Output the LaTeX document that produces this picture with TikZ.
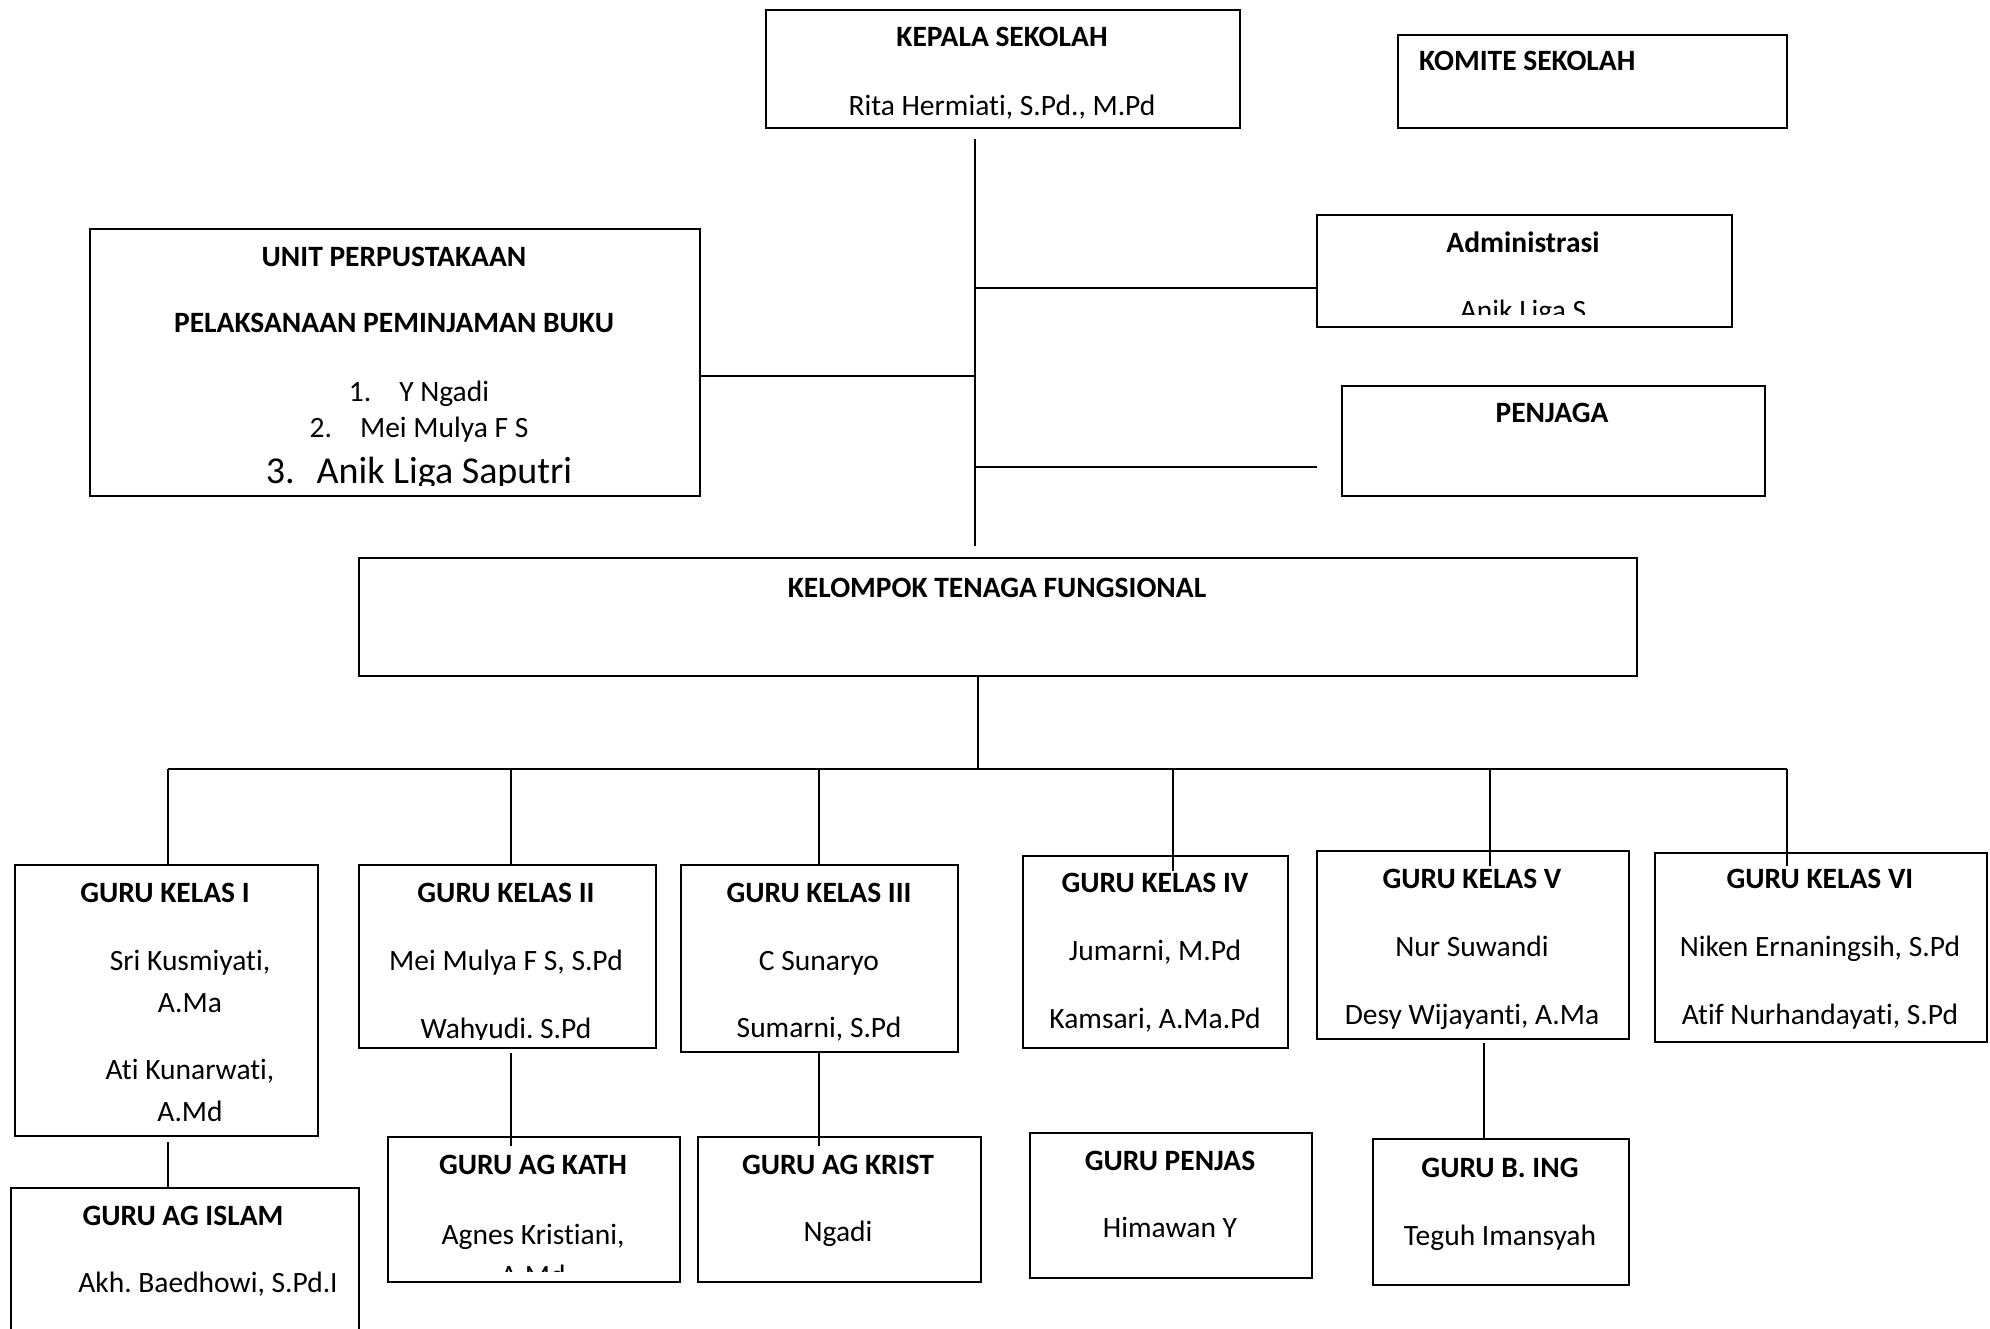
\documentclass[tikz,border=0pt]{standalone}
\usepackage{fontspec}
\setmainfont[Ligatures=NoCommon]{Carlito}
\newcommand\obox[5]{%
  \node[box, minimum width={(#4-#2)*1pt}, minimum height={(#5-#3)*1pt}] (#1) at (#2,#3) {};}
\newcommand\clipin[4]{\clip (#1+6,#2+6) rectangle (#3-6,#4-10);}
\tikzset{
  box/.style={draw, line width=2pt, inner sep=0pt, anchor=north west},
  conn/.style={line width=1.6pt},
  hd/.style={font=\bfseries\fontsize{29.5}{35}\selectfont, anchor=base, inner sep=0pt},
  tx/.style={font=\fontsize{29.5}{35}\selectfont, anchor=base, inner sep=0pt},
  big/.style={font=\fontsize{38}{44}\selectfont, anchor=base, inner sep=0pt},
}
\frenchspacing
\begin{document}
\begin{tikzpicture}[x=1pt,y=-1pt]
\useasboundingbox (0,0) rectangle (1990,1329);

% ---------- top boxes ----------
\obox{kepala}{765}{9}{1239}{127}
\node[hd] (kepalaT) at (1002,47) {KEPALA SEKOLAH};
\node[tx] (kepalaN) at (1002,116) {Rita Hermiati, S.Pd., M.Pd};

\obox{komite}{1397}{34}{1786}{127}
\node[hd, anchor=base west] (komiteT) at (1419,71) {KOMITE SEKOLAH};

\obox{unit}{89}{228}{699}{495}
\begin{scope}
\clipin{89}{228}{699}{495}
\node[hd] (unitT) at (394,267) {UNIT PERPUSTAKAAN};
\node[hd] (unitS) at (394,333) {PELAKSANAAN PEMINJAMAN BUKU};
\node[tx] (unit1) at (419,402) {1.\hspace{28pt}Y Ngadi};
\node[tx] (unit2) at (419,438) {2.\hspace{28pt}Mei Mulya F S};
\node[big] (unit3) at (419,483) {3.\hspace{22pt}Anik Liga Saputri};
\end{scope}

\obox{admin}{1316}{214}{1731}{326}
\begin{scope}
\clip (1322,220) rectangle (1725,315);
\node[hd] (adminT) at (1523,253) {Administrasi};
\node[tx] (adminN) at (1523,321) {Anik Liga S};
\end{scope}

\obox{penjaga}{1341}{385}{1764}{495}
\node[hd] (penjagaT) at (1552,423) {PENJAGA};

% ---------- trunk ----------
\coordinate (t1) at (975,139);
\coordinate (t2) at (975,546);
\coordinate (ja) at (975,288);
\coordinate (ju) at (975,376);
\coordinate (jp) at (975,467);
\coordinate (pe) at (1317,467);
\draw[conn] (t1) -- (t2);
\draw[conn] (ja) -- (ja -| admin.west);
\draw[conn] (ju) -- (ju -| unit.east);
\draw[conn] (jp) -- (pe);

% ---------- kelompok ----------
\obox{kelompok}{358}{557}{1636}{675}
\node[hd] (kelompokT) at (997,597) {KELOMPOK TENAGA FUNGSIONAL};

\coordinate (kb) at (978,769);
\draw[conn] (kelompok.south -| kb) -- (kb);
\coordinate (b1) at (168,769);
\coordinate (b2) at (511,769);
\coordinate (b3) at (819,769);
\coordinate (b4) at (1173,769);
\coordinate (b5) at (1490,769);
\coordinate (b6) at (1787,769);
\draw[conn] (b1) -- (b6);

% ---------- guru kelas ----------
\obox{gk1}{14}{864}{317}{1135}
\begin{scope}
\clipin{14}{864}{317}{1135}
\node[hd] (gk1T) at (165,902) {GURU KELAS I};
\node[tx] (gk1a) at (190,970) {Sri Kusmiyati,};
\node[tx] (gk1b) at (190,1012) {A.Ma};
\node[tx] (gk1c) at (190,1079) {Ati Kunarwati,};
\node[tx] (gk1d) at (190,1121) {A.Md};
\end{scope}

\obox{gk2}{358}{864}{655}{1047}
\begin{scope}
\clip (364,870) rectangle (649,1039);
\node[hd] (gk2T) at (506,902) {GURU KELAS II};
\node[tx] (gk2a) at (506,970) {Mei Mulya F S, S.Pd};
\node[tx] (gk2b) at (506,1038) {Wahyudi. S.Pd};
\end{scope}

\obox{gk3}{680}{864}{957}{1051}
\begin{scope}
\clipin{680}{864}{957}{1051}
\node[hd] (gk3T) at (819,902) {GURU KELAS III};
\node[tx] (gk3a) at (819,970) {C Sunaryo};
\node[tx] (gk3b) at (819,1037) {Sumarni, S.Pd};
\end{scope}

\obox{gk4}{1022}{855}{1287}{1047}
\begin{scope}
\clipin{1022}{855}{1287}{1047}
\node[hd] (gk4T) at (1155,892) {GURU KELAS IV};
\node[tx] (gk4a) at (1155,960) {Jumarni, M.Pd};
\node[tx] (gk4b) at (1155,1028) {Kamsari, A.Ma.Pd};
\end{scope}

\obox{gk5}{1316}{850}{1628}{1038}
\begin{scope}
\clipin{1316}{850}{1628}{1038}
\node[hd] (gk5T) at (1472,888) {GURU KELAS V};
\node[tx] (gk5a) at (1472,956) {Nur Suwandi};
\node[tx] (gk5b) at (1472,1024) {Desy Wijayanti, A.Ma};
\end{scope}

\obox{gk6}{1654}{852}{1986}{1041}
\begin{scope}
\clipin{1654}{852}{1986}{1041}
\node[hd] (gk6T) at (1820,888) {GURU KELAS VI};
\node[tx] (gk6a) at (1820,956) {Niken Ernaningsih, S.Pd};
\node[tx] (gk6b) at (1820,1024) {Atif Nurhandayati, S.Pd};
\end{scope}

\coordinate (d4) at (1173,871);
\coordinate (d5) at (1490,866);
\coordinate (d6) at (1787,866);
\draw[conn] (b1) -- (b1 |- gk1.north);
\draw[conn] (b2) -- (b2 |- gk2.north);
\draw[conn] (b3) -- (b3 |- gk3.north);
\draw[conn] (b4) -- (d4);
\draw[conn] (b5) -- (d5);
\draw[conn] (b6) -- (d6);

% ---------- lower row ----------
\obox{islam}{10}{1187}{358}{1345}
\node[hd] (islamT) at (183,1225) {GURU AG ISLAM};
\node[tx] (islamN) at (208,1292) {Akh. Baedhowi, S.Pd.I};

\obox{kath}{387}{1136}{679}{1281}
\begin{scope}
\clip (393,1142) rectangle (673,1271);
\node[hd] (kathT) at (533,1174) {GURU AG KATH};
\node[tx] (kathN) at (533,1244) {Agnes Kristiani,};
\node[tx] (kathM) at (533,1285) {A.Md};
\end{scope}

\obox{krist}{697}{1136}{980}{1281}
\node[hd] (kristT) at (838,1174) {GURU AG KRIST};
\node[tx] (kristN) at (838,1241) {Ngadi};

\obox{penjas}{1029}{1132}{1311}{1277}
\node[hd] (penjasT) at (1170,1170) {GURU PENJAS};
\node[tx] (penjasN) at (1170,1237) {Himawan Y};

\obox{bing}{1372}{1138}{1628}{1284}
\node[hd] (bingT) at (1500,1177) {GURU B. ING};
\node[tx] (bingN) at (1500,1245) {Teguh Imansyah};

\coordinate (c1) at (168,1142);
\coordinate (c2) at (511,1053);
\coordinate (c2e) at (511,1146);
\coordinate (c3) at (819,1053);
\coordinate (c3e) at (819,1146);
\coordinate (c5) at (1484,1043);
\draw[conn] (c1) -- (c1 |- islam.north);
\draw[conn] (c2) -- (c2e);
\draw[conn] (c3) -- (c3e);
\draw[conn] (c5) -- (c5 |- bing.north);
\end{tikzpicture}
\end{document}
